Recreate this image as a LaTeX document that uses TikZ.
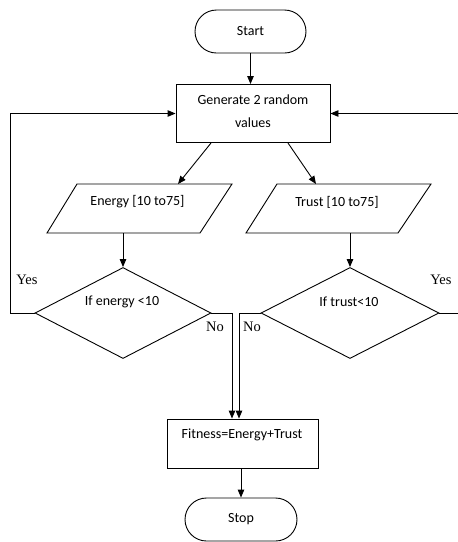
\documentclass[tikz,border=0pt]{standalone}
\usepackage{fontspec}
\setmainfont{Carlito}
\newfontfamily\serifyn{Liberation Serif}
\usetikzlibrary{arrows.meta,shapes.misc,shapes.geometric}
\begin{document}
\begin{tikzpicture}[x=1pt,y=-1pt, line width=0.9pt,
  arr/.style={-{Triangle[length=8pt,width=6.5pt]}},
  txt/.style={font=\fontsize{14}{23}\selectfont, inner sep=0pt, align=center},
  yn/.style={font=\serifyn\fontsize{14.5}{17}\selectfont, inner sep=0pt},
  term/.style={draw, rounded rectangle, minimum width=111pt, minimum height=43pt, inner sep=0pt, font=\fontsize{14}{17}\selectfont},
  box/.style={draw, rectangle, inner sep=0pt},
  dec/.style={draw, diamond, inner sep=0pt, minimum height=91pt}]
\useasboundingbox (0,0) rectangle (458,542);

% nodes
\node[term] (start) at (250.5,31.5) {Start};
\node[box, minimum width=154pt, minimum height=58pt] (gen) at (253,113.5) {};
\node[txt] (gentxt) at (253,111.5) {Generate 2 random\\values};

\coordinate (enTL) at (77,184);  \coordinate (enTR) at (232,184);
\coordinate (enBR) at (200,233); \coordinate (enBL) at (47,233);
\draw (enTL) -- (enTR) -- (enBR) -- (enBL) -- cycle;
\node[txt] (entxt) at (137.5,202) {Energy [10 to75]};

\coordinate (trTL) at (277,184);  \coordinate (trTR) at (431,184);
\coordinate (trBR) at (398,233); \coordinate (trBL) at (246,233);
\draw (trTL) -- (trTR) -- (trBR) -- (trBL) -- cycle;
\node[txt] (trtxt) at (337,202) {Trust [10 to75]};

\node[dec, minimum width=176pt] (dE) at (123,313) {};
\node[txt] (dEtxt) at (122,302) {If energy <10};
\node[dec, minimum width=178pt] (dT) at (350,313) {};
\node[txt] (dTtxt) at (349,302) {If trust<10};

\node[box, minimum width=151pt, minimum height=49pt] (fit) at (242.5,443.5) {};
\node[txt] (fittxt) at (242,435) {Fitness=Energy+Trust};

\node[term, minimum width=112pt] (stop) at (241,519.5) {Stop};

% labels
\node[yn] (y1) at (27,280) {Yes};
\node[yn] (n1) at (215,327) {No};
\node[yn] (n2) at (252,327) {No};
\node[yn] (y2) at (441,280) {Yes};

% connectors
\coordinate (gL) at (211,143);
\coordinate (gR) at (288,143);
\coordinate (eIn) at (178,184);
\coordinate (tIn) at (316,184);
\draw[arr] (start.south) -- (gen.north -| start.south);
\draw[arr] (gL) -- (eIn);
\draw[arr] (gR) -- (tIn);
\draw[arr] (dE.north |- enBL) -- (dE.north);
\draw[arr] (dT.north |- trBL) -- (dT.north);
\draw[arr] (dE.west) -- (10,313) |- (gen.west);
\draw[arr] (dT.east) -- (458,313) |- (gen.east);
\draw[arr] (dE.east) -| ([xshift=-10.5pt]fit.north);
\draw[arr] (dT.west) -| ([xshift=-3.5pt]fit.north);
\draw[arr] (fit.south -| stop.north) -- (stop.north);
\end{tikzpicture}
\end{document}
